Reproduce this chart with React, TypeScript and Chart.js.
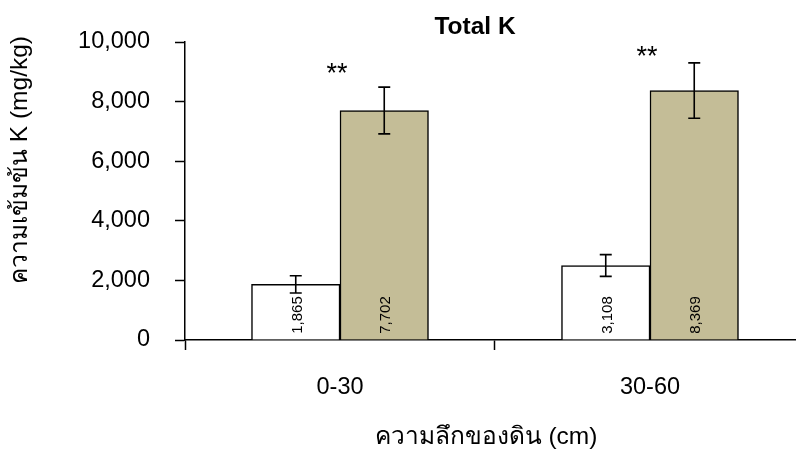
import { useEffect, useRef } from 'react';
import { Chart, registerables } from 'chart.js';

Chart.register(...registerables);

const categories = ['0-30', '30-60'];
const seriesAValues = [1865, 2500];
const seriesBValues = [7702, 8369];
const seriesAErrors = [290, 365];
const seriesBErrors = [785, 930];
const seriesALabels = ['1,865', '3,108'];
const seriesBLabels = ['7,702', '8,369'];
const significance = ['**', '**'];
const significanceY = [9200, 9780];
const yTicks = [0, 2000, 4000, 6000, 8000, 10000];
const chartTitle = 'Total K';
const xTitle = 'ความลึกของดิน (cm)';
const yTitle = 'ความเข้มข้น K (mg/kg)';

const FONT = "'Liberation Sans', Arial, 'Noto Sans', sans-serif";

const overlayPlugin = {
  id: 'overlay',
  afterDatasetsDraw(chart: any) {
    const ctx = chart.ctx as CanvasRenderingContext2D;
    const xs = chart.scales.x;
    const ys = chart.scales.y;
    const vals = [seriesAValues, seriesBValues];
    const errs = [seriesAErrors, seriesBErrors];
    const labels = [seriesALabels, seriesBLabels];
    ctx.save();
    chart.data.datasets.forEach((_ds: any, di: number) => {
      const meta = chart.getDatasetMeta(di);
      meta.data.forEach((el: any, i: number) => {
        const v = vals[di][i];
        const e = errs[di][i];
        const top = ys.getPixelForValue(v + e);
        const bot = ys.getPixelForValue(v - e);
        ctx.strokeStyle = '#000';
        ctx.lineWidth = 1.6;
        ctx.beginPath();
        ctx.moveTo(el.x, top);
        ctx.lineTo(el.x, bot);
        ctx.moveTo(el.x - 6, top);
        ctx.lineTo(el.x + 6, top);
        ctx.moveTo(el.x - 6, bot);
        ctx.lineTo(el.x + 6, bot);
        ctx.stroke();

        ctx.save();
        ctx.translate(el.x + 2, ys.getPixelForValue(0) - 25);
        ctx.rotate(-Math.PI / 2);
        ctx.font = '15px ' + FONT;
        ctx.textAlign = 'center';
        ctx.textBaseline = 'middle';
        ctx.fillStyle = '#000';
        ctx.fillText(labels[di][i], 0, 0);
        ctx.restore();
      });
    });

    ctx.fillStyle = '#000';
    ctx.textAlign = 'center';
    ctx.textBaseline = 'alphabetic';
    ctx.font = '27px ' + FONT;
    significance.forEach((s, i) => {
      ctx.fillText(s, xs.getPixelForValue(i) - 3, ys.getPixelForValue(significanceY[i]) + 16);
    });

    ctx.textBaseline = 'middle';
    ctx.font = 'bold 24.5px ' + FONT;
    ctx.fillText(chartTitle, 475, 27);

    ctx.font = '24.5px ' + FONT;
    ctx.fillText(xTitle, 486, 437);

    ctx.save();
    ctx.translate(20, 160);
    ctx.rotate(-Math.PI / 2);
    ctx.fillText(yTitle, 0, 0);
    ctx.restore();

    ctx.restore();
  },
};

export default function App() {
  const ref = useRef<HTMLCanvasElement | null>(null);

  useEffect(() => {
    if (!ref.current) return;
    const chart = new Chart(ref.current, {
      type: 'bar',
      data: {
        datasets: [
          {
            data: categories.map((_, i) => ({ x: i, y: seriesAValues[i] })),
            backgroundColor: '#FFFFFF',
            borderColor: '#000000',
            borderWidth: 1.5,
            barThickness: 88.5,
          },
          {
            data: categories.map((_, i) => ({ x: i, y: seriesBValues[i] })),
            backgroundColor: '#C4BD97',
            borderColor: '#000000',
            borderWidth: 1.5,
            barThickness: 88.5,
          },
        ],
      } as any,
      options: {
        animation: false,
        responsive: true,
        maintainAspectRatio: false,
        layout: { padding: { top: 42, right: 0, left: 0, bottom: 0 } },
        plugins: {
          legend: { display: false },
          tooltip: { enabled: false },
          title: { display: false },
        },
        scales: {
          x: {
            type: 'linear',
            min: -0.5,
            max: 1.471,
            bounds: 'data',
            offset: false,
            afterBuildTicks: (s: any) => {
              const t: { value: number }[] = [];
              categories.forEach((_, i) => {
                t.push({ value: i - 0.5 });
                t.push({ value: i });
              });
              s.ticks = t;
            },
            ticks: {
              callback: (v: any) => (Number.isInteger(v) ? categories[v] : ''),
              font: { size: 23.5, family: FONT },
              color: '#000',
              padding: 23,
              maxRotation: 0,
              autoSkip: false,
            },
            grid: {
              display: true,
              offset: false,
              drawOnChartArea: false,
              drawTicks: true,
              tickLength: 10,
              tickWidth: 1.5,
              tickColor: (c: any) =>
                c.tick && Number.isInteger(c.tick.value) ? 'rgba(0,0,0,0)' : '#000',
            },
            border: { display: true, color: '#000', width: 1.5 },
            afterFit: (s: any) => {
              s.height = 112;
            },
          },
          y: {
            min: 0,
            max: 10000,
            afterBuildTicks: (s: any) => {
              s.ticks = yTicks.map((v) => ({ value: v }));
            },
            ticks: {
              callback: (v: any) => Number(v).toLocaleString('en-US'),
              font: { size: 23.5, family: FONT },
              color: '#000',
              padding: 25,
            },
            grid: {
              display: true,
              drawOnChartArea: false,
              drawTicks: true,
              tickLength: 10,
              tickWidth: 1.5,
              tickColor: '#000',
            },
            border: { display: true, color: '#000', width: 1.5 },
            afterFit: (s: any) => {
              s.width = 185;
            },
          },
        },
      } as any,
      plugins: [overlayPlugin],
    });
    return () => chart.destroy();
  }, []);

  return (
    <div style={{ position: 'fixed', left: 0, top: 0, width: 796, height: 452, background: '#fff' }}>
      <canvas ref={ref} />
    </div>
  );
}
